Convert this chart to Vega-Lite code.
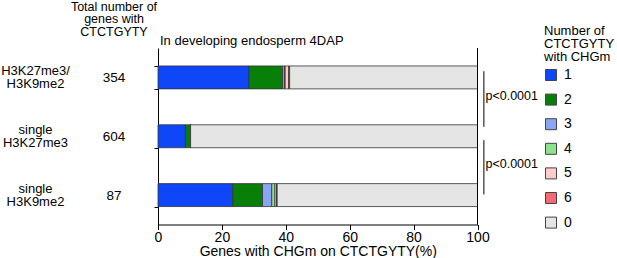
{
  "$schema": "https://vega.github.io/schema/vega-lite/v6.json",
  "autosize": {"type": "none"},
  "padding": {"left": 158, "top": 48, "right": 139, "bottom": 34},
  "width": 319.5,
  "height": 176.5,
  "config": {
    "font": "Liberation Sans",
    "view": {"stroke": null},
    "axis": {"labelColor": "black", "titleColor": "black", "domainColor": "black", "tickColor": "black", "grid": false, "titleFontWeight": "normal"}
  },
  "title": {"text": "In developing endosperm 4DAP", "anchor": "start", "frame": "group", "fontSize": 13, "fontWeight": "normal", "color": "black", "baseline": "alphabetic", "offset": 0, "dx": 2, "dy": 57.5},
  "datasets": {
    "bars": [
      {"cat": "H3K27me3/ H3K9me2", "n": "354", "k": "1", "ord": 1, "pct": 28.5},
      {"cat": "H3K27me3/ H3K9me2", "n": "354", "k": "2", "ord": 2, "pct": 10.5},
      {"cat": "H3K27me3/ H3K9me2", "n": "354", "k": "3", "ord": 3, "pct": 0.6},
      {"cat": "H3K27me3/ H3K9me2", "n": "354", "k": "4", "ord": 4, "pct": 0.2},
      {"cat": "H3K27me3/ H3K9me2", "n": "354", "k": "5", "ord": 5, "pct": 1.1},
      {"cat": "H3K27me3/ H3K9me2", "n": "354", "k": "6", "ord": 6, "pct": 0.3},
      {"cat": "H3K27me3/ H3K9me2", "n": "354", "k": "0", "ord": 7, "pct": 58.8},
      {"cat": "single H3K27me3", "n": "604", "k": "1", "ord": 1, "pct": 8.6},
      {"cat": "single H3K27me3", "n": "604", "k": "2", "ord": 2, "pct": 1.6},
      {"cat": "single H3K27me3", "n": "604", "k": "3", "ord": 3, "pct": 0},
      {"cat": "single H3K27me3", "n": "604", "k": "4", "ord": 4, "pct": 0},
      {"cat": "single H3K27me3", "n": "604", "k": "5", "ord": 5, "pct": 0},
      {"cat": "single H3K27me3", "n": "604", "k": "6", "ord": 6, "pct": 0},
      {"cat": "single H3K27me3", "n": "604", "k": "0", "ord": 7, "pct": 89.8},
      {"cat": "single H3K9me2", "n": "87", "k": "1", "ord": 1, "pct": 23.4},
      {"cat": "single H3K9me2", "n": "87", "k": "2", "ord": 2, "pct": 9.3},
      {"cat": "single H3K9me2", "n": "87", "k": "3", "ord": 3, "pct": 2.9},
      {"cat": "single H3K9me2", "n": "87", "k": "4", "ord": 4, "pct": 1.0},
      {"cat": "single H3K9me2", "n": "87", "k": "5", "ord": 5, "pct": 0.5},
      {"cat": "single H3K9me2", "n": "87", "k": "6", "ord": 6, "pct": 0.2},
      {"cat": "single H3K9me2", "n": "87", "k": "0", "ord": 7, "pct": 62.7}
    ],
    "ann": [
      {"a": "H3K27me3/ H3K9me2", "b": "single H3K27me3", "p": "p<0.0001"},
      {"a": "single H3K27me3", "b": "single H3K9me2", "p": "p<0.0001"}
    ]
  },
  "resolve": {"scale": {"y": "independent"}},
  "layer": [
    {
      "layer": [
        {
          "data": {"name": "bars"},
          "mark": {"type": "bar", "stroke": "#333333", "strokeWidth": 0.8},
          "encoding": {
            "y": {
              "field": "cat", "type": "nominal",
              "sort": ["H3K27me3/ H3K9me2", "single H3K27me3", "single H3K9me2"],
              "scale": {"type": "band", "paddingInner": 0.61, "paddingOuter": 0.305},
              "axis": {"title": null, "labelExpr": "split(datum.label, ' ')", "labelAlign": "center", "labelBaseline": "middle", "labelPadding": 119, "labelOffset": -6.5, "labelFontSize": 13, "labelLineHeight": 13, "tickBand": "extent", "tickSize": 4, "domainWidth": 1}
            },
            "x": {
              "field": "pct", "type": "quantitative", "stack": "zero",
              "scale": {"domain": [0, 100], "nice": false},
              "axis": {"title": "Genes with CHGm on CTCTGYTY(%)", "values": [0, 20, 40, 60, 80, 100], "tickSize": 5, "labelFontSize": 14, "labelPadding": 1, "titleFontSize": 14, "titlePadding": 0, "labelFlush": false}
            },
            "color": {
              "field": "k", "type": "nominal",
              "scale": {"domain": ["1", "2", "3", "4", "5", "6", "0"], "range": ["#0f46f7", "#087f08", "#88a6f4", "#8ee28e", "#ffcccc", "#f46a72", "#e5e5e5"]},
              "legend": {
                "title": ["Number of", "CTCTGYTY", "with CHGm"],
                "orient": "none", "legendX": 386, "legendY": -23,
                "titleFontSize": 13, "titleFontWeight": "normal", "titleColor": "black", "titleLineHeight": 13, "titlePadding": 4,
                "symbolType": "square", "symbolSize": 121, "symbolStrokeColor": "#444444", "symbolStrokeWidth": 1, "symbolOpacity": 1,
                "labelFontSize": 14, "labelColor": "black", "labelOffset": 6, "rowPadding": 8.6
              }
            },
            "order": {"field": "ord", "type": "quantitative"}
          }
        },
        {
          "data": {"name": "ann"},
          "mark": {"type": "rule", "color": "black", "strokeWidth": 1},
          "encoding": {"x": {"datum": 100}}
        },
        {
          "data": {"name": "ann"},
          "transform": [{"filter": "datum.a == 'H3K27me3/ H3K9me2'"}],
          "layer": [
            {
              "mark": {"type": "rule", "color": "black", "strokeWidth": 1},
              "encoding": {
                "x": {"datum": 102},
                "y": {"field": "a", "type": "nominal", "bandPosition": 0.23},
                "y2": {"field": "b", "bandPosition": 0.09}
              }
            },
            {
              "mark": {"type": "text", "align": "left", "baseline": "middle", "fontSize": 12.5, "color": "black"},
              "encoding": {
                "x": {"datum": 102.5},
                "y": {"field": "a", "type": "nominal", "bandPosition": 1.32},
                "text": {"field": "p"}
              }
            }
          ]
        },
        {
          "data": {"name": "ann"},
          "transform": [{"filter": "datum.a == 'single H3K27me3'"}],
          "layer": [
            {
              "mark": {"type": "rule", "color": "black", "strokeWidth": 1},
              "encoding": {
                "x": {"datum": 102},
                "y": {"field": "a", "type": "nominal", "bandPosition": 0.67},
                "y2": {"field": "b", "bandPosition": 0.47}
              }
            },
            {
              "mark": {"type": "text", "align": "left", "baseline": "middle", "fontSize": 12.5, "color": "black"},
              "encoding": {
                "x": {"datum": 102.5},
                "y": {"field": "a", "type": "nominal", "bandPosition": 1.7},
                "text": {"field": "p"}
              }
            }
          ]
        }
      ]
    },
    {
      "data": {"name": "bars"},
      "transform": [{"filter": "datum.k == '1'"}],
      "mark": {"type": "point", "opacity": 0},
      "encoding": {
        "y": {
          "field": "n", "type": "nominal", "sort": ["354", "604", "87"],
          "axis": {"orient": "left", "title": ["Total number of", "genes with", "CTCTGYTY"], "titleAngle": 0, "titleAlign": "center", "titleBaseline": "top", "titleX": -44.5, "titleY": -47.5, "titleFontSize": 12.5, "titleLineHeight": 12.3, "domain": false, "ticks": false, "labelAlign": "center", "labelBaseline": "middle", "labelPadding": 44.5, "labelFontSize": 13.5}
        }
      }
    }
  ]
}
